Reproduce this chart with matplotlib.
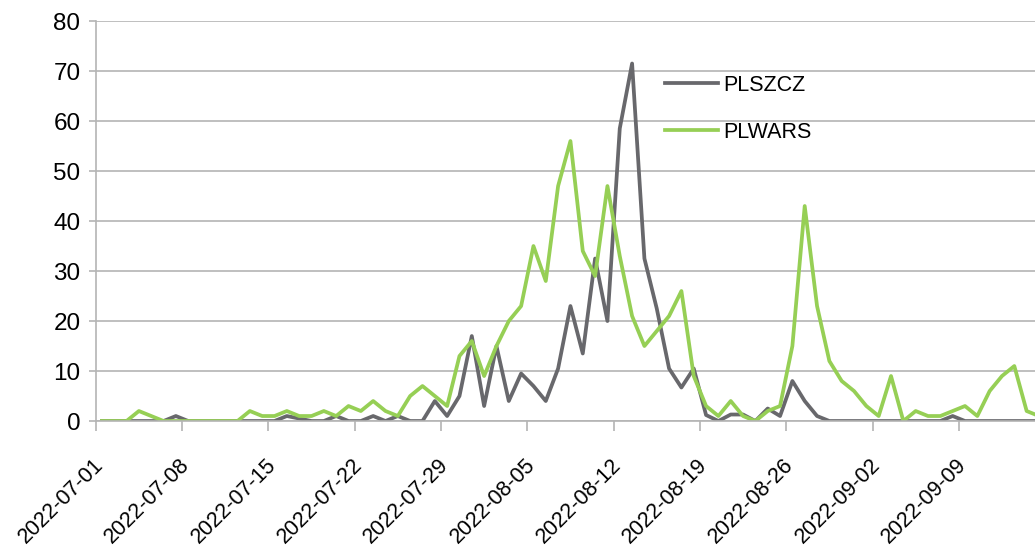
import matplotlib.pyplot as plt
import matplotlib.transforms as mtransforms

plt.rcParams['font.family'] = ['Liberation Sans', 'DejaVu Sans']

# daily values, 2022-07-01 .. 2022-09-16
plszcz = [0, 0, 0, 0, 0, 0, 1, 0, 0, 0, 0, 0, 0, 0, 0, 1, 0.5, 0, 0, 1,
          0, 0, 1, 0, 1, 0, 0, 4, 1, 5, 17, 3, 15, 4, 9.5, 7, 4, 10.5, 23, 13.5,
          32.5, 20, 58.5, 71.5, 32.5, 22.5, 10.5, 6.7, 10.5, 1.2, 0, 1.3, 1.3, 0, 2.5, 1, 8, 4, 1, 0,
          0, 0, 0, 0, 0, 0, 0, 0, 0, 1, 0, 0, 0, 0, 0, 0, 0]
plwars = [0, 0, 0, 2, 1, 0, 0, 0, 0, 0, 0, 0, 2, 1, 1, 2, 1, 1, 2, 1,
          3, 2, 4, 2, 1, 5, 7, 5, 3, 13, 16, 9, 15, 20, 23, 35, 28, 47, 56, 34,
          29, 47, 33, 21, 15, 18, 21, 26, 9, 3, 1, 4, 1, 0, 2, 3, 15, 43, 23, 12,
          8, 6, 3, 1, 9, 0, 2, 1, 1, 2, 3, 1, 6, 9, 11, 2, 1]
tick_labels = ['2022-07-01', '2022-07-08', '2022-07-15', '2022-07-22', '2022-07-29',
               '2022-08-05', '2022-08-12', '2022-08-19', '2022-08-26', '2022-09-02',
               '2022-09-09']

fig = plt.figure(figsize=(10.35, 5.46), dpi=100)
ax = fig.add_axes([0.0925, 0.2289, 0.9173, 0.7326])

x = list(range(len(plszcz)))
ax.plot(x, plszcz, color='#68686c', lw=2.7, label='PLSZCZ')
ax.plot(x, plwars, color='#96cf55', lw=2.7, label='PLWARS')

ax.set_xlim(-0.5, 76.5)
ax.set_ylim(0, 80)
ax.set_yticks(range(0, 81, 10))
ax.yaxis.grid(True, color='#b4b4b4', lw=1.2)
ax.set_axisbelow(True)

for s in ['top', 'right']:
    ax.spines[s].set_visible(False)
for s in ['left', 'bottom']:
    ax.spines[s].set_color('#b4b4b4')
    ax.spines[s].set_linewidth(1.2)

ax.set_xticks([7 * i - 0.5 for i in range(len(tick_labels))])
ax.set_xticklabels(tick_labels, rotation=45, ha='right', rotation_mode='anchor')
ax.tick_params(axis='x', length=7, width=1.2, color='#b4b4b4', labelsize=15.5, pad=17)
ax.tick_params(axis='y', length=5, width=1.2, color='#b4b4b4', labelsize=17.5, pad=6)
shift = mtransforms.ScaledTranslation(-3 / 100, 0, fig.dpi_scale_trans)
for lab in ax.get_xticklabels():
    lab.set_transform(lab.get_transform() + shift)

ax.legend(loc='upper left', bbox_to_anchor=(665 / 1035, 1 - 75 / 546),
          bbox_transform=fig.transFigure, frameon=False, fontsize=15.5,
          handlelength=2.45, handletextpad=0.25, labelspacing=1.2,
          borderpad=0, borderaxespad=0)

plt.savefig('out.png', dpi=100)
